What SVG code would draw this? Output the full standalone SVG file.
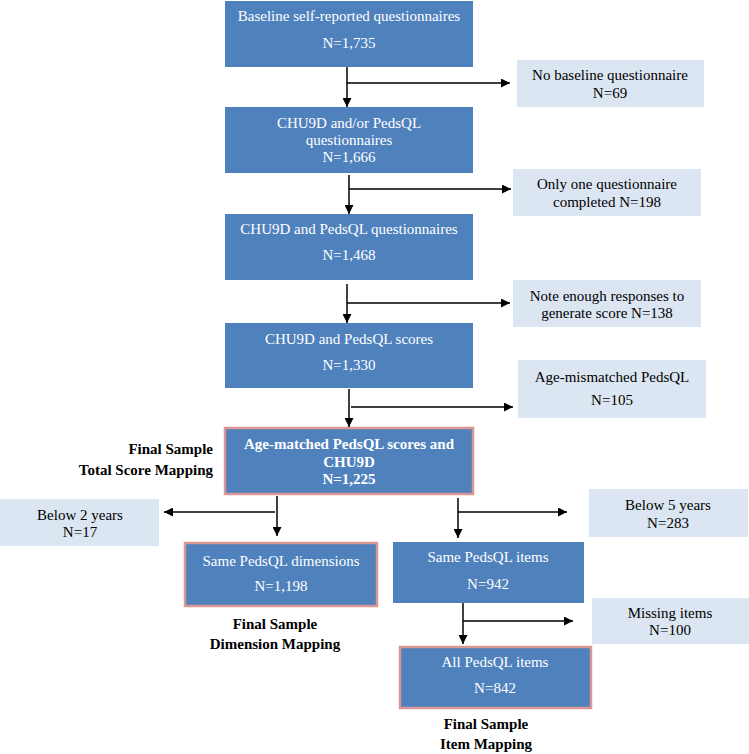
<svg xmlns="http://www.w3.org/2000/svg" width="749" height="754" viewBox="0 0 749 754" font-family="Liberation Serif, Times New Roman, serif" font-size="15">
<style>
.main{fill:#4F81BD;stroke:none}
.fin{fill:#4F81BD;stroke:#D99694;stroke-width:2.5}
.ex{fill:#DCE6F2;stroke:none}
text{text-anchor:middle}
.w{fill:#ffffff}
.k{fill:#000000}
.b{font-weight:bold}
.r{text-anchor:end}
.c{stroke:#000;stroke-width:1.5;fill:none}
</style>
<defs>
<marker id="ah" viewBox="0 0 10 10" refX="10" refY="5" markerWidth="9" markerHeight="9" markerUnits="userSpaceOnUse" orient="auto">
<path d="M0,0 L10,5 L0,10 z" fill="#000"/>
</marker>
</defs>
<rect width="749" height="754" fill="#fff"/>
<g id="n1"><rect class="main" x="225" y="1" width="248" height="66"/>
<text class="w" x="349" y="21">Baseline self-reported questionnaires</text>
<text class="w" x="349" y="48">N=1,735</text></g>
<g id="x1"><rect class="ex" x="517" y="60" width="187" height="47"/>
<text class="k" x="610" y="80">No baseline questionnaire</text>
<text class="k" x="610" y="98">N=69</text></g>
<g id="n2"><rect class="main" x="225" y="107" width="248" height="66"/>
<text class="w" x="349" y="128">CHU9D and/or PedsQL</text>
<text class="w" x="349" y="145">questionnaires</text>
<text class="w" x="349" y="162">N=1,666</text></g>
<g id="x2"><rect class="ex" x="513" y="169" width="188" height="47"/>
<text class="k" x="607" y="189">Only one questionnaire</text>
<text class="k" x="607" y="207">completed N=198</text></g>
<g id="n3"><rect class="main" x="225" y="214" width="248" height="66"/>
<text class="w" x="349" y="234">CHU9D and PedsQL questionnaires</text>
<text class="w" x="349" y="260">N=1,468</text></g>
<g id="x3"><rect class="ex" x="513" y="280" width="188" height="47"/>
<text class="k" x="607" y="301">Note enough responses to</text>
<text class="k" x="607" y="318">generate score N=138</text></g>
<g id="n4"><rect class="main" x="225" y="323" width="248" height="65"/>
<text class="w" x="349" y="344">CHU9D and PedsQL scores</text>
<text class="w" x="349" y="370">N=1,330</text></g>
<g id="x4"><rect class="ex" x="518" y="360" width="188" height="58"/>
<text class="k" x="612" y="382">Age-mismatched PedsQL</text>
<text class="k" x="612" y="405">N=105</text></g>
<g id="n5"><rect class="fin" x="225" y="428" width="248" height="66"/>
<text class="w b" x="349" y="449">Age-matched PedsQL scores and</text>
<text class="w b" x="349" y="467">CHU9D</text>
<text class="w b" x="349" y="484">N=1,225</text></g>
<g id="l1"><text class="k b r" x="213" y="454">Final Sample</text>
<text class="k b r" x="213" y="475">Total Score Mapping</text></g>
<g id="x5"><rect class="ex" x="0" y="499" width="159" height="47"/>
<text class="k" x="80" y="520">Below 2 years</text>
<text class="k" x="80" y="537">N=17</text></g>
<g id="x6"><rect class="ex" x="589" y="489" width="159" height="48"/>
<text class="k" x="668" y="510">Below 5 years</text>
<text class="k" x="668" y="528">N=283</text></g>
<g id="n6"><rect class="fin" x="185" y="543" width="192" height="63"/>
<text class="w" x="281" y="566">Same PedsQL dimensions</text>
<text class="w" x="281" y="591">N=1,198</text></g>
<g id="l2"><text class="k b" x="275" y="629">Final Sample</text>
<text class="k b" x="275" y="649">Dimension Mapping</text></g>
<g id="n7"><rect class="main" x="393" y="542" width="191" height="61"/>
<text class="w" x="488" y="562">Same PedsQL items</text>
<text class="w" x="488" y="589">N=942</text></g>
<g id="x7"><rect class="ex" x="592" y="598" width="157" height="46"/>
<text class="k" x="670" y="618">Missing items</text>
<text class="k" x="670" y="635">N=100</text></g>
<g id="n8"><rect class="fin" x="400" y="647" width="191" height="61"/>
<text class="w" x="495" y="667">All PedsQL items</text>
<text class="w" x="495" y="693">N=842</text></g>
<g id="l3"><text class="k b" x="486" y="729">Final Sample</text>
<text class="k b" x="486" y="749">Item Mapping</text></g>
<g id="connectors">
<line class="c" x1="347" y1="67" x2="347" y2="107" marker-end="url(#ah)"/>
<line class="c" x1="347" y1="83" x2="510" y2="83" marker-end="url(#ah)"/>
<line class="c" x1="349" y1="175" x2="349" y2="214" marker-end="url(#ah)"/>
<line class="c" x1="349" y1="189" x2="511" y2="189" marker-end="url(#ah)"/>
<line class="c" x1="347" y1="284" x2="347" y2="323" marker-end="url(#ah)"/>
<line class="c" x1="347" y1="303" x2="510" y2="303" marker-end="url(#ah)"/>
<line class="c" x1="349" y1="389" x2="349" y2="427" marker-end="url(#ah)"/>
<line class="c" x1="351" y1="407" x2="513" y2="407" marker-end="url(#ah)"/>
<line class="c" x1="277" y1="496" x2="277" y2="536" marker-end="url(#ah)"/>
<line class="c" x1="275" y1="512" x2="164" y2="512" marker-end="url(#ah)"/>
<line class="c" x1="458" y1="498" x2="458" y2="538" marker-end="url(#ah)"/>
<line class="c" x1="458" y1="512" x2="567" y2="512" marker-end="url(#ah)"/>
<line class="c" x1="463" y1="603" x2="463" y2="644" marker-end="url(#ah)"/>
<line class="c" x1="463" y1="621" x2="573" y2="621" marker-end="url(#ah)"/>
</g>
</svg>
